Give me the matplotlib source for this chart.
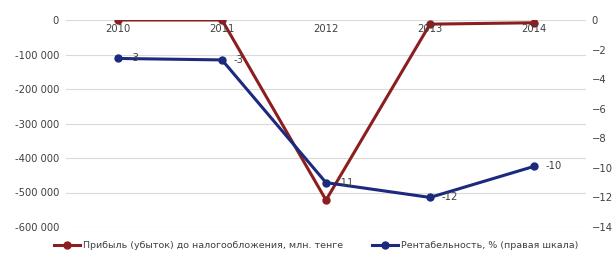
import matplotlib.pyplot as plt

years = ['2010', '2011', '2012', '2013', '2014']
profit = [0, 0, -522000, -12000, -8000]          # млн. тенге
margin = [-2.6, -2.7, -11.0, -12.0, -9.9]          # %
margin_labels = ['-3', '-3', '-11', '-12', '-10']

red = '#8B1E1E'
blue = '#1B2A7E'

fig = plt.figure(figsize=(6.14, 2.59), dpi=100)
ax = fig.add_axes([66/614, 32/259, 520/614, 207/259])
ax2 = ax.twinx()

x = range(len(years))
ax.plot(x, profit, color=red, lw=2.2, marker='o', ms=5, zorder=3)
ax2.plot(x, margin, color=blue, lw=2.2, marker='o', ms=5, zorder=3)
for i, (v, lab) in enumerate(zip(margin, margin_labels)):
    ax2.annotate(lab, (i, v), xytext=(8, 0), textcoords='offset points',
                 va='center', ha='left', fontsize=7.2, color='#404040')

ax.set_xlim(-0.5, 4.5)
ax.set_ylim(-600000, 0)
ax2.set_ylim(-14, 0)
ax.set_yticks(range(-600000, 1, 100000))
ax.set_yticklabels([f'{v:,}'.replace(',', ' ') for v in range(-600000, 1, 100000)])
ax2.set_yticks(range(-14, 1, 2))
ax.set_xticks([])
for i, y in enumerate(years):
    ax.text(i, -12000, y, ha='center', va='top', fontsize=7.2, color='#404040')

ax.grid(axis='y', color='#d9d9d9', lw=0.8)
ax.set_axisbelow(True)
for a in (ax, ax2):
    for s in a.spines.values():
        s.set_visible(False)
    a.tick_params(length=0, labelsize=7.2, labelcolor='#404040')
ax.tick_params(axis='y', pad=5)
ax2.tick_params(axis='y', pad=4)

l1, = ax.plot([], [], color=red, lw=2.2, marker='o', ms=5)
l2, = ax.plot([], [], color=blue, lw=2.2, marker='o', ms=5)
fig.legend([l1, l2],
           ['Прибыль (убыток) до налогообложения, млн. тенге',
            'Рентабельность, % (правая шкала)'],
           loc='lower center', bbox_to_anchor=(0.515, 0.0), ncol=2, frameon=False,
           fontsize=6.8, handlelength=2.8, handletextpad=0.3, columnspacing=3,
           labelcolor='#404040')

fig.savefig('out.png', dpi=100)
